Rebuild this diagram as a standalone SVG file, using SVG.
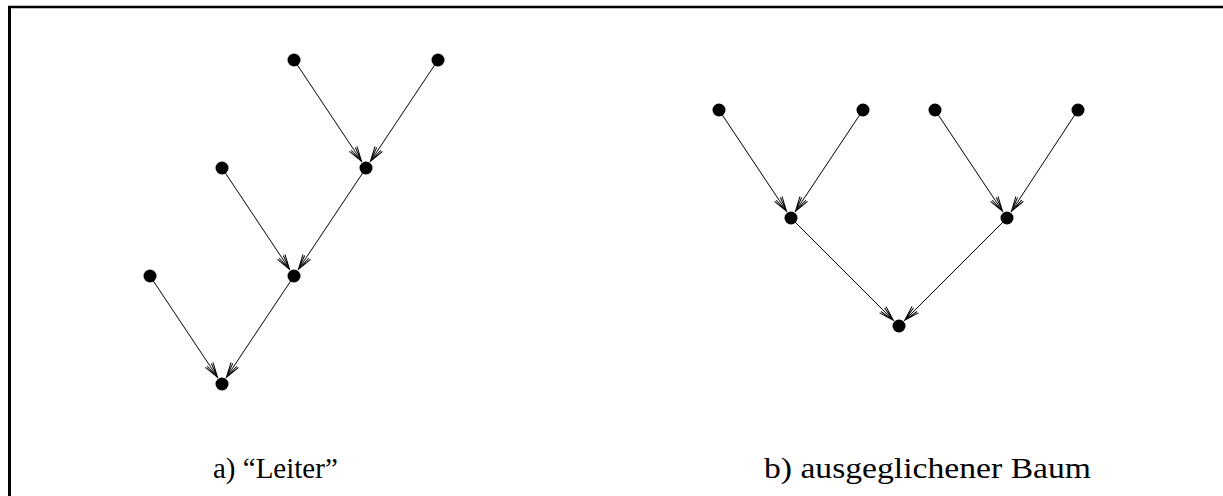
<svg xmlns="http://www.w3.org/2000/svg" width="1223" height="496" viewBox="0 0 1223 496">
<style>
.dot{fill:#000}
.edge{stroke:#000;stroke-width:1;fill:none;marker-end:url(#ah)}
.frame{stroke:#000;fill:none}
.lbl{font-family:"Liberation Serif","DejaVu Serif",serif;font-size:29px;fill:#000}
</style>
<defs>
<marker id="ah" viewBox="-16 -6 17 12" refX="0" refY="0" markerWidth="17" markerHeight="12" markerUnits="userSpaceOnUse" orient="auto">
<path d="M-15,-4.5 L0,0 L-15,4.5 M-15,-2.5 L0,0 L-15,2.5" stroke="#000" stroke-width="1" fill="none"/>
</marker>
</defs>
<rect width="1223" height="496" fill="#fff"/>
<g id="frame">
<line class="frame" x1="8" y1="7" x2="1223" y2="7" stroke-width="2.5"/>
<line class="frame" x1="9.5" y1="6" x2="9.5" y2="496" stroke-width="3"/>
</g>
<g id="connectors">
<line class="edge" x1="294" y1="60" x2="361.56" y2="161.34"/>
<line class="edge" x1="438" y1="60" x2="370.44" y2="161.34"/>
<line class="edge" x1="222" y1="168" x2="289.56" y2="269.34"/>
<line class="edge" x1="366" y1="168" x2="298.44" y2="269.34"/>
<line class="edge" x1="150" y1="276" x2="217.56" y2="377.34"/>
<line class="edge" x1="294" y1="276" x2="226.44" y2="377.34"/>
<line class="edge" x1="719" y1="110" x2="786.56" y2="211.34"/>
<line class="edge" x1="863" y1="110" x2="795.44" y2="211.34"/>
<line class="edge" x1="935" y1="110" x2="1002.56" y2="211.34"/>
<line class="edge" x1="1078" y1="110" x2="1011.44" y2="211.34"/>
<line class="edge" x1="791" y1="218" x2="893.34" y2="320.34"/>
<line class="edge" x1="1007" y1="218" x2="904.66" y2="320.34"/>
</g>
<g id="nodes-a">
<g id="a1"><circle class="dot" cx="294" cy="60" r="6.5"/></g>
<g id="a2"><circle class="dot" cx="438" cy="60" r="6.5"/></g>
<g id="a3"><circle class="dot" cx="366" cy="168" r="6.5"/></g>
<g id="a4"><circle class="dot" cx="222" cy="168" r="6.5"/></g>
<g id="a5"><circle class="dot" cx="294" cy="276" r="6.5"/></g>
<g id="a6"><circle class="dot" cx="150" cy="276" r="6.5"/></g>
<g id="a7"><circle class="dot" cx="222" cy="384" r="6.5"/></g>
</g>
<g id="nodes-b">
<g id="b1"><circle class="dot" cx="719" cy="110" r="6.5"/></g>
<g id="b2"><circle class="dot" cx="863" cy="110" r="6.5"/></g>
<g id="b3"><circle class="dot" cx="935" cy="110" r="6.5"/></g>
<g id="b4"><circle class="dot" cx="1078" cy="110" r="6.5"/></g>
<g id="b5"><circle class="dot" cx="791" cy="218" r="6.5"/></g>
<g id="b6"><circle class="dot" cx="1007" cy="218" r="6.5"/></g>
<g id="b7"><circle class="dot" cx="899" cy="326" r="6.5"/></g>
</g>
<g id="labels">
<text class="lbl" x="213" y="478">a) “Leiter”</text>
<text class="lbl" x="764" y="478" textLength="327" lengthAdjust="spacingAndGlyphs">b) ausgeglichener Baum</text>
</g>
</svg>
